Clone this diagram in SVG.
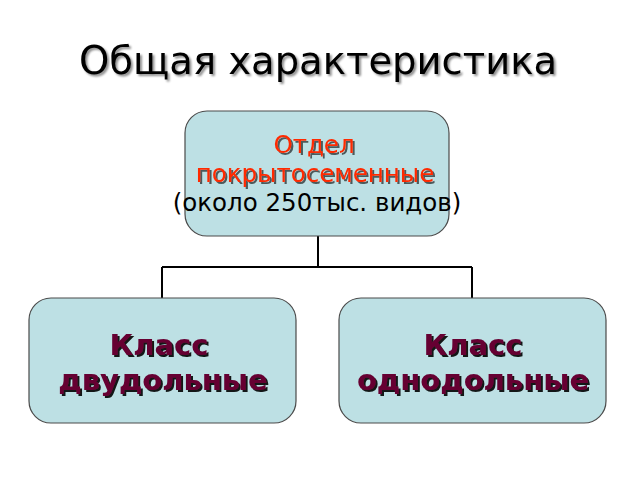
<svg xmlns="http://www.w3.org/2000/svg" width="640" height="480" viewBox="0 0 640 480">
<defs>
<filter id="sh" x="-10%" y="-20%" width="130%" height="150%">
<feGaussianBlur in="SourceAlpha" stdDeviation="0.8"/>
<feOffset dx="2" dy="2" result="o"/>
<feComponentTransfer in="o" result="s"><feFuncA type="linear" slope="0.45"/></feComponentTransfer>
<feMerge><feMergeNode in="s"/><feMergeNode in="SourceGraphic"/></feMerge>
</filter>
<filter id="shr" x="-10%" y="-20%" width="130%" height="150%">
<feGaussianBlur in="SourceAlpha" stdDeviation="0.5"/>
<feOffset dx="1.5" dy="1.5" result="o"/>
<feComponentTransfer in="o" result="s"><feFuncA type="linear" slope="0.6"/></feComponentTransfer>
<feMerge><feMergeNode in="s"/><feMergeNode in="SourceGraphic"/></feMerge>
</filter>
<filter id="shd" x="-10%" y="-20%" width="130%" height="150%">
<feOffset in="SourceAlpha" dx="1.5" dy="1.5" result="o"/>
<feComponentTransfer in="o" result="s"><feFuncA type="linear" slope="0.9"/></feComponentTransfer>
<feMerge><feMergeNode in="s"/><feMergeNode in="SourceGraphic"/></feMerge>
</filter>
</defs>
<style>
.box{fill:#bde0e4;stroke:#4a4a4a;stroke-width:1.2}
.t{font-family:"DejaVu Sans","Noto Sans",sans-serif;text-anchor:middle}
.red{fill:#ff2a00;font-size:24.5px}
.blk{fill:#000;font-size:24.5px}
.cls{fill:#660033;font-size:29px;font-weight:bold}
.con{fill:none;stroke:#000;stroke-width:2}
</style>
<rect width="640" height="480" fill="#fff"/>
<text class="t" x="318" y="74" font-size="38.5" fill="#000" filter="url(#sh)">Общая характеристика</text>
<g id="connectors">
<path class="con" d="M318 236 V267 M162 267 H472 M162 267 V298 M472 267 V298"/>
</g>
<g id="top">
<rect class="box" x="185" y="111" width="264" height="125" rx="22"/>
<g filter="url(#shr)">
<text class="t red" x="314" y="153">Отдел</text>
<text class="t red" x="315" y="182">покрытосеменные</text>
</g>
<text class="t blk" x="317" y="211">(около 250тыс. видов)</text>
</g>
<g id="left">
<rect class="box" x="29" y="298" width="267" height="125" rx="22"/>
<g filter="url(#shd)">
<text class="t cls" x="159" y="355">Класс</text>
<text class="t cls" x="163" y="390">двудольные</text>
</g>
</g>
<g id="right">
<rect class="box" x="339" y="298" width="267" height="125" rx="22"/>
<g filter="url(#shd)">
<text class="t cls" x="473" y="355">Класс</text>
<text class="t cls" x="473" y="390">однодольные</text>
</g>
</g>
</svg>
